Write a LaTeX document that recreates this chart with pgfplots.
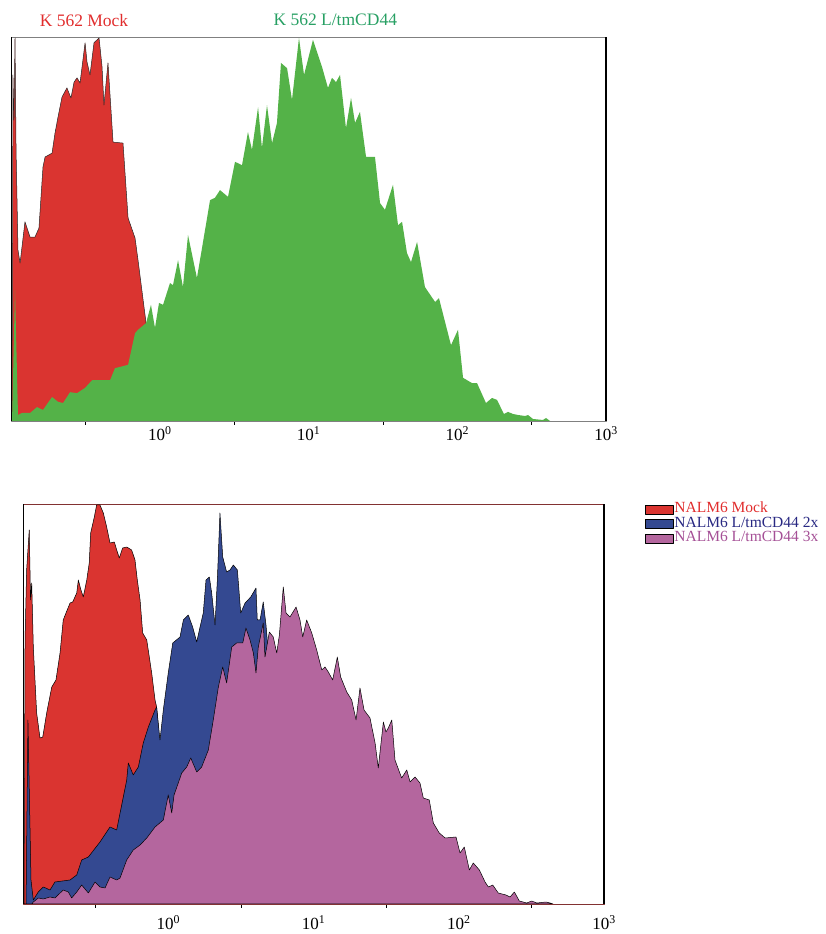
\documentclass[border=0pt]{standalone}
\usepackage{fontspec}
\setmainfont{Liberation Serif}
\usepackage{pgfplots}
\pgfplotsset{compat=1.18}
\definecolor{mred}{RGB}{218,52,48}
\definecolor{mgreen}{RGB}{84,178,72}
\definecolor{mblue}{RGB}{52,73,145}
\definecolor{mpurple}{RGB}{180,102,158}
\definecolor{tred}{RGB}{225,45,45}
\definecolor{tgreen}{RGB}{40,160,100}
\definecolor{tblue}{RGB}{40,40,130}
\definecolor{tpurple}{RGB}{165,80,150}
\definecolor{frameB}{RGB}{130,50,50}
\pgfplotsset{
  flowaxis/.style={
    scale only axis,
    xmin=-1, xmax=3, ymin=0, ymax=8,
    xtick={0,1,2,3},
    xticklabels={{10\textsuperscript{0}},{10\textsuperscript{1}},{10\textsuperscript{2}},{10\textsuperscript{3}}},
    minor xtick={-0.5,0.5,1.5,2.5},
    ytick=\empty,
    minor ytick={1,2,3,4,5,6,7},
    tick pos=left,
    tick align=outside,
    major tick length=0pt,
    minor tick length=4pt,
    tick style={black, line width=0.5pt},
    xticklabel style={font=\fontsize{17}{20}\selectfont, inner sep=0pt, anchor=north},
    clip mode=individual,
  }
}
\begin{document}
\begin{tikzpicture}[line join=round]
\useasboundingbox (0,0) rectangle (826pt,934pt);
% ---------------- top panel ----------------
\begin{axis}[flowaxis, at={(11pt,513pt)}, anchor=south west,
  width=595pt, height=384pt,
  axis line style={draw=gray, line width=0.6pt},
  xticklabel style={yshift=-5pt}]
\addplot[fill=mred, draw=black!85, line width=0.5pt] coordinates {
(-0.993,0) (-0.987,7.21) (-0.980,6.27) (-0.973,7.98) (-0.966,5.65) (-0.953,3.56)
(-0.939,3.29) (-0.906,4.15) (-0.872,3.83) (-0.839,3.83) (-0.812,4.02) (-0.785,5.29)
(-0.771,5.50) (-0.724,5.58) (-0.704,6.00) (-0.684,6.33) (-0.657,6.75) (-0.624,6.94)
(-0.597,6.73) (-0.576,7.06) (-0.556,7.15) (-0.536,7.04) (-0.502,7.88) (-0.489,7.48)
(-0.469,7.21) (-0.442,7.88) (-0.408,7.98) (-0.388,7.38) (-0.375,6.58) (-0.348,7.46)
(-0.314,5.81) (-0.247,5.79) (-0.213,4.23) (-0.166,3.81) (-0.146,3.35) (-0.092,2.04)
(-0.060,1.00) (-0.030,0)
} \closedcycle;
\addplot[fill=mgreen, draw=none] coordinates {
(-0.993,0) (-0.973,2.73) (-0.953,0.125) (-0.926,0.167) (-0.872,0.167) (-0.825,0.29)
(-0.785,0.23) (-0.724,0.50) (-0.684,0.40) (-0.650,0.375) (-0.603,0.60) (-0.556,0.58)
(-0.502,0.69) (-0.455,0.85) (-0.334,0.85) (-0.301,1.10) (-0.213,1.17) (-0.166,1.83)
(-0.146,1.90) (-0.092,2.04) (-0.059,2.42) (-0.032,1.94) (-0.005,2.46) (0.022,2.42)
(0.069,2.875) (0.089,2.83) (0.123,3.35) (0.156,2.79) (0.190,3.875) (0.250,2.98)
(0.284,3.60) (0.338,4.60) (0.371,4.65) (0.405,4.81) (0.459,4.67) (0.506,5.40)
(0.553,5.33) (0.593,6.02) (0.620,5.65) (0.661,6.54) (0.687,5.69) (0.721,6.58)
(0.755,5.79) (0.788,6.21) (0.815,7.46) (0.856,7.35) (0.889,6.69) (0.936,7.98)
(0.970,7.21) (1.030,7.94) (1.091,7.375) (1.131,6.94) (1.158,7.15) (1.185,7.06)
(1.212,7.21) (1.252,6.10) (1.286,6.73) (1.313,6.21) (1.346,6.44) (1.387,5.50)
(1.447,5.50) (1.481,4.54) (1.514,4.40) (1.568,4.92) (1.602,4.08) (1.629,4.15)
(1.662,3.50) (1.689,3.31) (1.730,3.73) (1.783,2.79) (1.851,2.48) (1.877,2.56)
(1.958,1.58) (2.005,1.90) (2.039,0.90) (2.099,0.79) (2.133,0.79) (2.193,0.375)
(2.234,0.48) (2.267,0.44) (2.314,0.146) (2.341,0.19) (2.375,0.146) (2.409,0.125)
(2.456,0.104) (2.476,0.125) (2.509,0.042) (2.576,0.021) (2.597,0.0625) (2.624,0)
} \closedcycle;
\draw[black, line width=0.8pt] (rel axis cs:0,0) -- (rel axis cs:0,1);
\draw[black, line width=2pt] (rel axis cs:1,0) -- (rel axis cs:1,1);
\node[text=tred, font=\fontsize{17.5}{20}\selectfont] at (rel axis cs:0.1227,1.044) {K 562 Mock};
\node[text=tgreen, font=\fontsize{17.5}{20}\selectfont] at (rel axis cs:0.545,1.044) {K 562 L/tmCD44};
\end{axis}
% ---------------- bottom panel ----------------
\begin{axis}[flowaxis, at={(23pt,30pt)}, anchor=south west,
  width=581pt, height=400pt,
  axis line style={draw=frameB, line width=0.6pt},
  xticklabel style={yshift=-11pt},
  legend style={at={(rel axis cs:1.0706,1.005)}, anchor=north west, draw=none, fill=none,
    inner sep=0pt, row sep=0pt, font=\fontsize{15.5}{16}\selectfont,
    nodes={text height=10pt, text depth=3pt, inner sep=0.75pt}},
  legend cell align=left,
  legend image code/.code={\draw[#1] (0pt,-4.5pt) rectangle (28pt,4.5pt);}]
\addplot[fill=mred, draw=black, line width=0.5pt] coordinates {
(-0.993,0) (-0.986,5.28) (-0.975,6.68) (-0.957,7.48) (-0.948,6.08) (-0.940,6.42)
(-0.929,5.14) (-0.906,3.82) (-0.883,3.32) (-0.864,3.34) (-0.837,3.82) (-0.802,4.34)
(-0.773,4.48) (-0.745,5.02) (-0.723,5.68) (-0.704,5.82) (-0.676,6.02) (-0.658,6.04)
(-0.630,6.22) (-0.619,6.48) (-0.601,6.28) (-0.585,6.14) (-0.561,6.48) (-0.544,6.82)
(-0.534,7.42) (-0.509,7.74) (-0.493,7.98) (-0.470,7.98) (-0.447,7.82) (-0.424,7.54)
(-0.401,7.22) (-0.371,7.24) (-0.355,7.08) (-0.337,6.92) (-0.314,7.12) (-0.286,7.14)
(-0.252,7.08) (-0.229,6.88) (-0.213,6.48) (-0.194,6.08) (-0.176,5.42) (-0.148,5.28)
(-0.114,4.62) (-0.091,4.08) (-0.080,3.94) (-0.057,3.14) (-0.011,1.82) (0.035,0)
} \closedcycle;
\addlegendentry{\textcolor{tred}{NALM6 Mock}}
\addplot[fill=mblue, draw=black, line width=0.5pt] coordinates {
(-0.979,0) (-0.966,3.68) (-0.945,0.48) (-0.929,0.08) (-0.895,0.24) (-0.860,0.34)
(-0.814,0.28) (-0.780,0.44) (-0.676,0.48) (-0.630,0.58) (-0.596,0.88) (-0.550,0.94)
(-0.470,1.24) (-0.401,1.54) (-0.355,1.48) (-0.286,2.48) (-0.275,2.82) (-0.241,2.58)
(-0.206,2.74) (-0.172,3.22) (-0.137,3.54) (-0.091,3.88) (-0.080,3.94) (-0.057,3.28)
(-0.034,3.88) (0.000,4.62) (0.031,5.22) (0.081,5.34) (0.104,5.68) (0.138,5.78)
(0.168,5.54) (0.196,5.24) (0.219,5.54) (0.241,5.82) (0.260,6.48) (0.283,6.54)
(0.299,6.22) (0.322,5.58) (0.338,6.48) (0.356,7.82) (0.375,6.94) (0.402,6.64)
(0.425,6.68) (0.448,6.78) (0.476,6.68) (0.499,5.82) (0.529,6.02) (0.568,6.14)
(0.604,6.32) (0.613,5.68) (0.632,5.68) (0.654,6.04) (0.673,5.58) (0.689,5.02)
(0.747,3.82) (0.838,2.48) (1.022,1.14) (1.251,0)
} \closedcycle;
\addlegendentry{\textcolor{tblue}{NALM6 L/tmCD44 2x}}
\addplot[fill=mpurple, draw=black, line width=0.5pt] coordinates {
(-0.940,0) (-0.929,0.04) (-0.895,0.12) (-0.860,0.10) (-0.814,0.14) (-0.780,0.12)
(-0.723,0.28) (-0.688,0.24) (-0.665,0.12) (-0.630,0.24) (-0.596,0.38) (-0.550,0.22)
(-0.504,0.44) (-0.470,0.34) (-0.435,0.32) (-0.401,0.54) (-0.355,0.48) (-0.332,0.52)
(-0.286,0.88) (-0.241,1.08) (-0.194,1.18) (-0.148,1.32) (-0.091,1.54) (-0.034,1.68)
(0.000,2.18) (0.024,1.82) (0.040,2.18) (0.093,2.62) (0.127,2.74) (0.155,2.92)
(0.196,2.64) (0.230,2.74) (0.276,3.08) (0.310,3.68) (0.345,4.34) (0.375,4.74)
(0.402,4.42) (0.437,5.14) (0.471,5.22) (0.513,5.22) (0.535,5.52) (0.563,5.28)
(0.586,5.02) (0.604,4.62) (0.620,5.14) (0.654,5.62) (0.666,4.94) (0.696,5.44)
(0.723,5.34) (0.747,5.02) (0.765,5.38) (0.792,6.34) (0.811,5.82) (0.838,5.74)
(0.880,5.94) (0.907,5.68) (0.926,5.34) (0.953,5.68) (0.988,5.42) (1.022,5.08)
(1.057,4.68) (1.079,4.74) (1.102,4.64) (1.132,4.48) (1.164,4.94) (1.187,4.54)
(1.229,4.24) (1.263,4.08) (1.293,3.68) (1.320,4.32) (1.348,3.88) (1.389,3.72)
(1.424,3.22) (1.446,2.72) (1.481,3.64) (1.499,3.44) (1.515,3.52) (1.539,3.68)
(1.561,2.88) (1.607,2.52) (1.642,2.68) (1.665,2.44) (1.699,2.54) (1.733,2.42)
(1.756,2.12) (1.797,2.08) (1.825,1.62) (1.866,1.42) (1.906,1.32) (1.981,1.34)
(2.009,1.02) (2.038,1.14) (2.073,0.68) (2.100,0.82) (2.142,0.68) (2.181,0.44)
(2.204,0.34) (2.234,0.38) (2.272,0.22) (2.325,0.18) (2.353,0.14) (2.383,0.24)
(2.417,0.06) (2.468,0.02) (2.502,0.06) (2.537,0.02) (2.601,0.04) (2.628,0.02) (2.649,0)
} \closedcycle;
\addlegendentry{\textcolor{tpurple}{NALM6 L/tmCD44 3x}}
\draw[black, line width=0.8pt] (rel axis cs:0,0) -- (rel axis cs:0,1);
\draw[black, line width=2pt] (rel axis cs:1,0) -- (rel axis cs:1,1);
\end{axis}
\end{tikzpicture}
\end{document}
